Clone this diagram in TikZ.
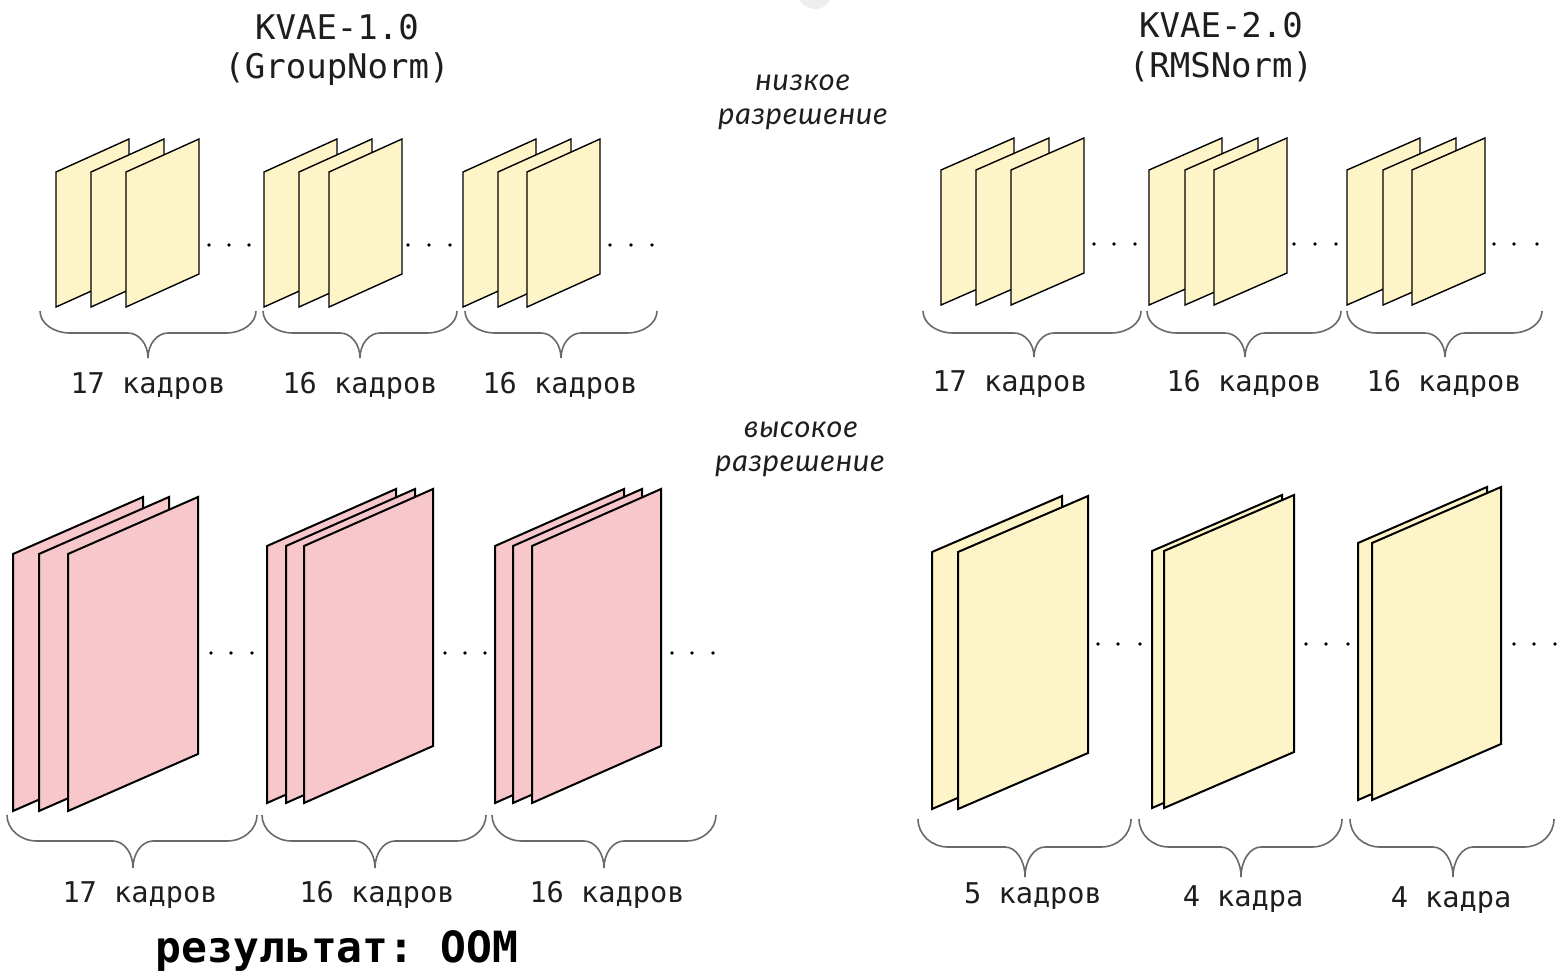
\documentclass[tikz,border=0pt]{standalone}
\usepackage{fontspec}
\setmonofont{DejaVu Sans Mono}
\newfontfamily\itf[LetterSpace=3]{Lato}
\definecolor{yel}{RGB}{253,245,200}
\definecolor{pnk}{RGB}{248,199,203}
\definecolor{bracecol}{RGB}{105,105,105}
\definecolor{txt}{RGB}{30,30,30}
\definecolor{blob}{RGB}{238,238,238}
% frame: x, ytopleft, width, height, skew, style
\newcommand{\myfrm}[6]{\draw[#6] (#1,#2) -- ++(#3,-#5) -- ++(0,#4) -- ++(-#3,#5) -- cycle;}
% brace: x1, x2, xc, ytop, ymid, ytip  (end curves 30 wide, tip curves 20 wide)
\newcommand{\mybrc}[6]{\draw[bracestyle]
  (#1,#4) .. controls (#1,{#4+0.552*(#5-#4)}) and (#1+13.4,#5) .. (#1+30,#5)
  -- (#3-20,#5) .. controls (#3-9,#5) and (#3,{#6-0.552*(#6-#5)}) .. (#3,#6)
  .. controls (#3,{#6-0.552*(#6-#5)}) and (#3+9,#5) .. (#3+20,#5)
  -- (#2-30,#5) .. controls (#2-13.4,#5) and (#2,{#4+0.552*(#5-#4)}) .. (#2,#4);}
\begin{document}
\begin{tikzpicture}[x=1pt,y=-1pt,
  topfr/.style={draw=black,line width=1.4pt,fill=yel,line join=miter},
  botyel/.style={draw=black,line width=2pt,fill=yel,line join=miter},
  botpnk/.style={draw=black,line width=2pt,fill=pnk,line join=miter},
  bracestyle/.style={draw=bracecol,line width=1.6pt},
  lbl/.style={font={\ttfamily\fontsize{28.6pt}{30pt}\selectfont},text=txt,anchor=base,inner sep=0pt},
  ttl/.style={font={\ttfamily\fontsize{34pt}{36pt}\selectfont},text=txt,anchor=base,inner sep=0pt},
  res/.style={font={\itf\itshape\fontsize{30.5pt}{32pt}\selectfont},text=txt,anchor=base,inner sep=0pt},
  oom/.style={font={\ttfamily\bfseries\fontsize{43pt}{45pt}\selectfont},text=black,anchor=base,inner sep=0pt}]
\useasboundingbox (0,0) rectangle (1560,975);
\clip (0,0) rectangle (1560,975);
\fill[white] (0,0) rectangle (1560,975);
\fill[blob] (815,-8) circle[radius=17pt];

% ---------- titles ----------
\node[ttl] (t1a) at (337,39) {KVAE-1.0};
\node[ttl] (t1b) at (337,78) {(GroupNorm)};
\node[ttl] (t2a) at (1221,37) {KVAE-2.0};
\node[ttl] (t2b) at (1221,77) {(RMSNorm)};
\node[res] (lowa) at (803,90) {низкое};
\node[res] (lowb) at (803,124) {разрешение};
\node[res] (higha) at (801,437) {высокое};
\node[res] (highb) at (800,471) {разрешение};

% ---------- top-left stacks ----------
\foreach \x in {56,91,126} {\myfrm{\x}{172}{73}{135}{33}{topfr}}
\foreach \x in {264,299,329} {\myfrm{\x}{172}{73}{135}{33}{topfr}}
\foreach \x in {463,498,527} {\myfrm{\x}{172}{73}{135}{33}{topfr}}
\foreach \x in {209,229,249,408,429,450,610,631,652} {\fill (\x,245) circle[radius=1.8pt];}
\mybrc{40}{256}{148}{311}{333}{358}
\mybrc{263}{457}{360}{311}{333}{358}
\mybrc{465}{657}{561}{311}{333}{358}
\node[lbl] (tl1) at (148,393) {17 кадров};
\node[lbl] (tl2) at (360,393) {16 кадров};
\node[lbl] (tl3) at (560,393) {16 кадров};

% ---------- top-right stacks ----------
\foreach \x in {941,976,1011} {\myfrm{\x}{170}{73}{135}{32}{topfr}}
\foreach \x in {1149,1185,1214} {\myfrm{\x}{170}{73}{135}{32}{topfr}}
\foreach \x in {1347,1383,1412} {\myfrm{\x}{170}{73}{135}{32}{topfr}}
\foreach \x in {1094,1114,1135,1294,1315,1336,1494,1514,1537} {\fill (\x,244) circle[radius=1.8pt];}
\mybrc{923}{1141}{1034}{311}{333}{357}
\mybrc{1147}{1341}{1245}{311}{333}{357}
\mybrc{1347}{1542}{1445}{311}{333}{357}
\node[lbl] (tr1) at (1010,391) {17 кадров};
\node[lbl] (tr2) at (1244,391) {16 кадров};
\node[lbl] (tr3) at (1444,391) {16 кадров};

% ---------- bottom-left stacks (pink) ----------
\foreach \x in {13,39,68} {\myfrm{\x}{554}{130}{257}{57}{botpnk}}
\foreach \x in {267,286,304} {\myfrm{\x}{546}{129}{257}{57}{botpnk}}
\foreach \x in {495,513,532} {\myfrm{\x}{546}{129}{257}{57}{botpnk}}
\foreach \x in {211,231,252,445,465,485,672,692,713} {\fill (\x,653) circle[radius=1.8pt];}
\mybrc{7}{257}{133}{815}{841}{868}
\mybrc{262}{486}{375}{815}{841}{868}
\mybrc{492}{716}{604}{815}{841}{868}
\node[lbl] (bl1) at (140,902) {17 кадров};
\node[lbl] (bl2) at (377,902) {16 кадров};
\node[lbl] (bl3) at (607,902) {16 кадров};
\node[oom] (oom) at (337,962) {результат: OOM};

% ---------- bottom-right stacks (yellow) ----------
\foreach \x in {932,958} {\myfrm{\x}{552}{130}{257}{56}{botyel}}
\foreach \x in {1152,1164} {\myfrm{\x}{551}{130}{257}{56}{botyel}}
\foreach \x in {1358,1372} {\myfrm{\x}{543}{129}{257}{56}{botyel}}
\foreach \x in {1098,1118,1140,1306,1326,1348,1514,1534,1555} {\fill (\x,644) circle[radius=1.8pt];}
\mybrc{918}{1131}{1025}{819}{847}{877}
\mybrc{1139}{1342}{1241}{819}{847}{877}
\mybrc{1350}{1554}{1453}{819}{847}{877}
\node[lbl] (br1) at (1033,903) {5 кадров};
\node[lbl] (br2) at (1243,906) {4 кадра};
\node[lbl] (br3) at (1451,907) {4 кадра};
\end{tikzpicture}
\end{document}
